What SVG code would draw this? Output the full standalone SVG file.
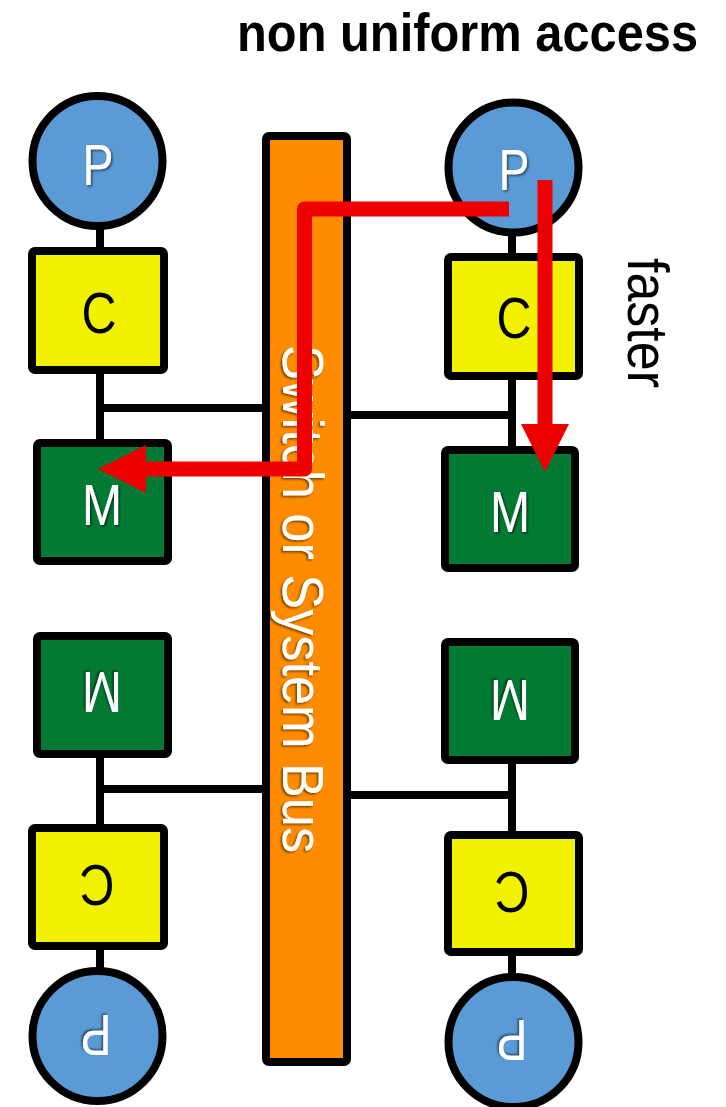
<svg xmlns="http://www.w3.org/2000/svg" width="726" height="1107" viewBox="0 0 726 1107">
<defs>
<style>
.proc{fill:#5B9BD5;stroke:#000;stroke-width:8}
.cache{fill:#F2F200;stroke:#000;stroke-width:8}
.mem{fill:#037A33;stroke:#000;stroke-width:8}
.bus{fill:#FF8C00;stroke:#000;stroke-width:8}
.wire{stroke:#000;stroke-width:8;fill:none}
.path{stroke:#EE0000;stroke-width:15;fill:none;stroke-linejoin:round}
.lbl{font-family:"Liberation Sans Narrow","Liberation Sans",Arial,sans-serif;text-anchor:middle;font-size:58px}
.wt{fill:#fff;filter:url(#sh)}
.bk{fill:#000}
</style>
<filter id="sh" x="-20%" y="-20%" width="140%" height="140%">
<feDropShadow dx="1.5" dy="1.5" stdDeviation="1" flood-color="#000" flood-opacity="0.55"/>
</filter>
<marker id="ah" viewBox="0 0 48 48" markerWidth="48" markerHeight="48" refX="0" refY="24" orient="auto" markerUnits="userSpaceOnUse">
<path d="M0,0 L48,24 L0,48 Z" fill="#EE0000"/>
</marker>
</defs>
<rect width="726" height="1107" fill="#fff"/>

<text transform="translate(237,51) scale(0.904,1)" x="0" y="0" font-family="'Liberation Sans Narrow','Liberation Sans',Arial,sans-serif" font-weight="bold" font-size="54">non uniform access</text>

<g id="connectors">
<line class="wire" x1="100" y1="161" x2="100" y2="502"/>
<line class="wire" x1="100" y1="408" x2="266" y2="408"/>
<line class="wire" x1="512" y1="167" x2="512" y2="509"/>
<line class="wire" x1="347" y1="415" x2="512" y2="415"/>
<line class="wire" x1="100" y1="695" x2="100" y2="1036"/>
<line class="wire" x1="100" y1="789" x2="266" y2="789"/>
<line class="wire" x1="512" y1="701" x2="512" y2="1042"/>
<line class="wire" x1="347" y1="795" x2="512" y2="795"/>
</g>

<g id="bus">
<rect class="bus" x="266" y="136" width="81" height="926" rx="3"/>
<text class="lbl wt" transform="translate(283,345) rotate(90)" x="0" y="0" style="text-anchor:start" font-size="62" textLength="508" lengthAdjust="spacingAndGlyphs">Switch or System Bus</text>
</g>

<g id="p-top-left"><circle class="proc" cx="97.5" cy="161" r="65"/><text class="lbl wt" x="98" y="185" font-size="56" textLength="31" lengthAdjust="spacingAndGlyphs">P</text></g>
<g id="c-top-left"><rect class="cache" x="32" y="251" width="132" height="119" rx="3"/><text class="lbl bk" x="99" y="333" font-size="60" textLength="35" lengthAdjust="spacingAndGlyphs">C</text></g>
<g id="m-top-left"><rect class="mem" x="37" y="443" width="131" height="118" rx="3"/><text class="lbl wt" x="102" y="525" textLength="40" lengthAdjust="spacingAndGlyphs">M</text></g>

<g id="p-top-right"><circle class="proc" cx="513.5" cy="167.5" r="65"/><text class="lbl wt" x="514" y="190" font-size="56" textLength="31" lengthAdjust="spacingAndGlyphs">P</text></g>
<g id="c-top-right"><rect class="cache" x="448" y="257" width="131" height="119" rx="3"/><text class="lbl bk" x="514" y="338" font-size="60" textLength="35" lengthAdjust="spacingAndGlyphs">C</text></g>
<g id="m-top-right"><rect class="mem" x="445" y="450" width="130" height="118" rx="3"/><text class="lbl wt" x="510" y="532" textLength="40" lengthAdjust="spacingAndGlyphs">M</text></g>

<g id="m-bottom-left"><rect class="mem" x="37" y="636" width="131" height="118" rx="3"/><text class="lbl wt" transform="translate(102,672) rotate(180)" x="0" y="0" textLength="40" lengthAdjust="spacingAndGlyphs">M</text></g>
<g id="c-bottom-left"><rect class="cache" x="32" y="828" width="132" height="118" rx="3"/><text class="lbl bk" transform="translate(97,865) rotate(180)" x="0" y="0" font-size="60" textLength="35" lengthAdjust="spacingAndGlyphs">C</text></g>
<g id="p-bottom-left"><circle class="proc" cx="97.5" cy="1036" r="65"/><text class="lbl wt" transform="translate(96,1015) rotate(180)" x="0" y="0" font-size="56" textLength="31" lengthAdjust="spacingAndGlyphs">P</text></g>

<g id="m-bottom-right"><rect class="mem" x="445" y="642" width="130" height="118" rx="3"/><text class="lbl wt" transform="translate(510,680) rotate(180)" x="0" y="0" textLength="40" lengthAdjust="spacingAndGlyphs">M</text></g>
<g id="c-bottom-right"><rect class="cache" x="448" y="835" width="131" height="117" rx="3"/><text class="lbl bk" transform="translate(512,872) rotate(180)" x="0" y="0" font-size="60" textLength="35" lengthAdjust="spacingAndGlyphs">C</text></g>
<g id="p-bottom-right"><circle class="proc" cx="513.5" cy="1042" r="65"/><text class="lbl wt" transform="translate(512,1020) rotate(180)" x="0" y="0" font-size="56" textLength="31" lengthAdjust="spacingAndGlyphs">P</text></g>

<g id="access-paths">
<path class="path" d="M509,209 H304.5 V469 H146" marker-end="url(#ah)"/>
<path class="path" d="M545,180 V424" marker-end="url(#ah)"/>
</g>

<text class="bk" transform="translate(628,258) rotate(90)" x="0" y="0" font-family="'Liberation Sans Narrow','Liberation Sans',Arial,sans-serif" font-size="58" textLength="130" lengthAdjust="spacingAndGlyphs">faster</text>
</svg>
